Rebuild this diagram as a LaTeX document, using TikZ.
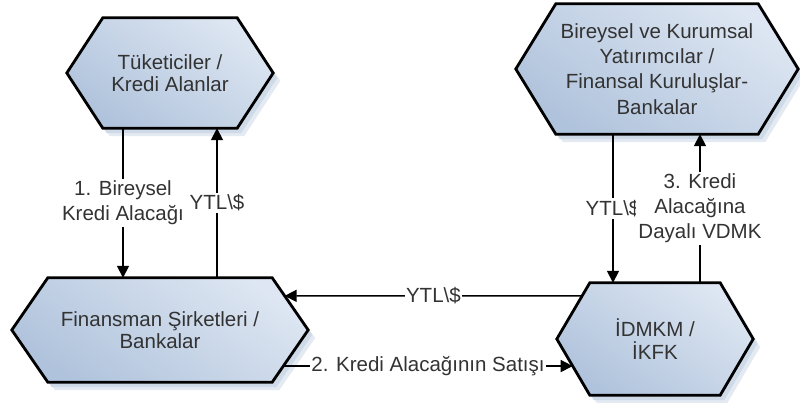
\documentclass[tikz,border=0pt]{standalone}
\usepackage{fontspec}
\setmainfont{Liberation Sans}
\usetikzlibrary{arrows.meta,calc,backgrounds}

\definecolor{hexlight}{HTML}{DDE6F2}
\definecolor{hexdark}{HTML}{B0C3DC}
\definecolor{hexshade}{HTML}{CFDAE9}
\definecolor{txt}{HTML}{333333}

\tikzset{
  hexbox/.style={inner sep=0pt, align=center, text=txt,
    font=\fontsize{20.5}{22.5}\selectfont},
  hexline/.style={draw=black, line width=2.8pt, line join=miter,
    top color=hexlight, bottom color=hexdark, shading angle=-35},
  hexshadow/.style={fill=hexshade},
  arr/.style={line width=1.6pt, -{Triangle[length=12pt,width=12pt]}},
  lbl/.style={fill=white, inner sep=2pt, align=center, text=txt,
    font=\fontsize{20.5}{25}\selectfont},
}

% hexagon outline around a named node; #2 = horizontal inset of the slanted sides
\newcommand\hexframe[2]{%
  \coordinate (#1-nw) at ([xshift=#2]#1.north west);
  \coordinate (#1-ne) at ([xshift=-#2]#1.north east);
  \coordinate (#1-se) at ([xshift=-#2]#1.south east);
  \coordinate (#1-sw) at ([xshift=#2]#1.south west);
  \begin{scope}[on background layer]
    \fill[hexshadow, opacity=0.55, transform canvas={shift={(7pt,-8pt)}}]
      (#1-nw) -- (#1-ne) -- (#1.east) -- (#1-se) -- (#1-sw) -- (#1.west) -- cycle;
    \fill[hexshadow, transform canvas={shift={(4pt,-5pt)}}]
      (#1-nw) -- (#1-ne) -- (#1.east) -- (#1-se) -- (#1-sw) -- (#1.west) -- cycle;
    \path[hexline]
      (#1-nw) -- (#1-ne) -- (#1.east) -- (#1-se) -- (#1-sw) -- (#1.west) -- cycle;
  \end{scope}}

\begin{document}
\begin{tikzpicture}[x=1pt, y=-1pt]
  \begin{scope}[on background layer]
    \fill[white] (0,0) rectangle (800,403);
  \end{scope}
  \useasboundingbox (0,0) rectangle (800,403);

  % parties
  \node[hexbox, minimum width=206pt, minimum height=110pt] (cons) at (170,73)
    {Tüketiciler /\\Kredi Alanlar};
  \node[hexbox, minimum width=282pt, minimum height=130pt,
        font=\fontsize{20.5}{25.3}\selectfont] (inv) at (657,69)
    {Bireysel ve Kurumsal\\Yatırımcılar /\\Finansal Kuruluşlar-\\Bankalar};
  \node[hexbox, minimum width=296pt, minimum height=104pt] (fin) at (160,330)
    {Finansman Şirketleri /\\Bankalar};
  \node[hexbox, minimum width=196pt, minimum height=112pt] (spv) at (655,339)
    {İDMKM /\\İKFK};

  \hexframe{cons}{36pt}
  \hexframe{inv}{40pt}
  \hexframe{fin}{36pt}
  \hexframe{spv}{33pt}

  % vertical flows
  \draw[arr] ([xshift=-47pt]cons.south) -- ([xshift=-47pt]cons.south |- fin.north)
    node[lbl, midway] {1. Bireysel\\Kredi Alacağı};
  \draw[arr] ([xshift=57pt]fin.north) -- ([xshift=57pt]fin.north |- cons.south)
    node[lbl, midway] {YTL\textbackslash\$};
  \draw[arr] ([xshift=-44pt]inv.south) -- ([xshift=-44pt]inv.south |- spv.north)
    node[lbl, midway] {YTL\textbackslash\$};
  \draw[arr] ([xshift=45pt]spv.north) -- ([xshift=45pt]spv.north |- inv.south)
    node[lbl, midway] {3. Kredi\\Alacağına\\Dayalı VDMK};

  % horizontal flows
  \coordinate (payS) at ($(spv-nw)!0.232!(spv.west)$);
  \coordinate (payT) at ([xshift=-100pt]payS);
  \draw[arr] (payS) -- (intersection of payS--payT and fin-ne--fin.east)
    node[lbl, midway, inner sep=1pt] {YTL\textbackslash\$};

  \coordinate (saleS) at ($(fin.east)!0.69!(fin-se)$);
  \coordinate (saleT) at ([xshift=100pt]saleS);
  \draw[arr] (saleS) -- (intersection of saleS--saleT and spv.west--spv-sw)
    node[lbl, midway, inner sep=1pt] {2. Kredi Alacağının Satışı};
\end{tikzpicture}
\end{document}
